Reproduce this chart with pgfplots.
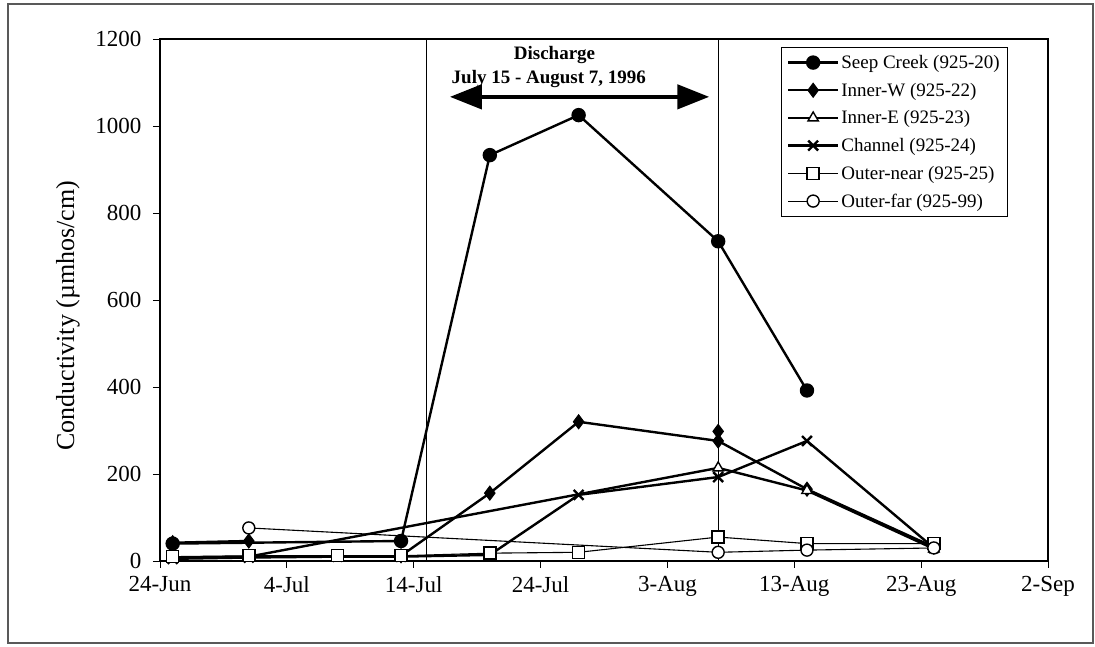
\documentclass[border=0pt]{standalone}
\usepackage{fontspec}
\setmainfont{Liberation Serif}
\usepackage{pgfplots}
\pgfplotsset{compat=1.18}
\usetikzlibrary{arrows.meta}
\begin{document}
\begin{tikzpicture}[x=1pt,y=1pt]
\path[use as bounding box] (0,0) rectangle (1095,647);
\draw[line width=1.5pt, black!65] (8,4) rectangle (1093,643);
\begin{axis}[
  at={(160pt,86pt)}, anchor=south west,
  scale only axis, width=888pt, height=522pt,
  xmin=0, xmax=70, ymin=0, ymax=1200,
  xtick={0,10,...,70},
  xticklabels={24-Jun,4-Jul,14-Jul,24-Jul,3-Aug,13-Aug,23-Aug,2-Sep},
  ytick={0,200,...,1200},
  xtick pos=bottom, ytick pos=left,
  tick align=outside, major tick length=7pt,
  tick style={black, line width=0.8pt},
  axis line style={line width=1.2pt},
  /pgf/number format/assume math mode=true,
  /pgf/number format/1000 sep={},
  ticklabel style={font=\fontsize{23}{27}\selectfont},
  xticklabel style={yshift=-5pt},
  yticklabel style={xshift=-8pt},
  ylabel={Conductivity (µmhos/cm)},
  every axis y label/.style={at={(axis description cs:-0.1036,0.47)}, rotate=90, anchor=center, font=\fontsize{26}{30}\selectfont},
  unbounded coords=jump,
  clip=false,
  legend cell align=left,
  legend style={at={(axis description cs:0.955,0.985)}, anchor=north east,
    font=\fontsize{19}{22}\selectfont, draw=black, line width=0.8pt, row sep=9pt, inner sep=6pt},
  legend image code/.code={\draw[mark repeat=2,mark phase=2] plot coordinates {(0pt,0pt)(25pt,0pt)(50pt,0pt)};},
]
\draw[line width=0.8pt] (axis cs:21,0) -- (axis cs:21,1200);
\draw[line width=0.8pt] (axis cs:44,0) -- (axis cs:44,1200);

\addplot[black, line width=2.4pt, mark=*, mark size=6pt, mark options={fill=black, solid}]
 coordinates {(1,40) (19,46) (26,933) (33,1025) (44,735) (51,392)};
\addlegendentry{Seep Creek (925-20)}

\addplot[black, line width=2.4pt, mark=diamond*, mark size=7pt, mark options={fill=black, solid, line width=1pt}]
 coordinates {(1,42) (7,46) (14,nan) (19,12) (26,156) (33,320) (44,276) (51,165) (61,32)};
\addlegendentry{Inner-W (925-22)}

\addplot[black, line width=2.4pt, mark=triangle*, mark size=6pt, mark options={fill=white, solid, line width=1.4pt}]
 coordinates {(1,8) (7,10) (44,214) (51,162) (61,28)};
\addlegendentry{Inner-E (925-23)}

\addplot[black, line width=2.4pt, mark=x, mark size=7pt, mark options={solid, line width=2.4pt}]
 coordinates {(1,5) (7,8) (14,10) (19,10) (26,14) (33,152) (44,193) (51,276) (61,30)};
\addlegendentry{Channel (925-24)}

\addplot[black, line width=1.1pt, mark=square*, mark size=6pt, mark options={fill=white, solid, line width=1.4pt}]
 coordinates {(1,10) (7,12) (14,12) (19,12) (26,18) (33,20) (44,55) (51,40) (61,40)};
\addlegendentry{Outer-near (925-25)}

\addplot[black, line width=1.1pt, mark=*, mark size=6pt, mark options={fill=white, solid, line width=1.4pt}]
 coordinates {(7,76) (44,20) (51,25) (61,30)};
\addlegendentry{Outer-far (925-99)}

\addplot[black, only marks, mark=diamond*, mark size=7pt, mark options={fill=black, line width=1pt}, forget plot]
 coordinates {(44,298)};

\draw[line width=4.5pt, {Triangle[length=32pt,width=24pt]}-{Triangle[length=32pt,width=24pt]}]
  (axis cs:22.85,1067) -- (axis cs:43.3,1067);
\node[font=\bfseries\fontsize{19}{22}\selectfont] at (axis cs:31.1,1163) {Discharge};
\node[font=\bfseries\fontsize{19}{22}\selectfont] at (axis cs:30.65,1108) {July 15 - August 7, 1996};
\end{axis}
\end{tikzpicture}
\end{document}
